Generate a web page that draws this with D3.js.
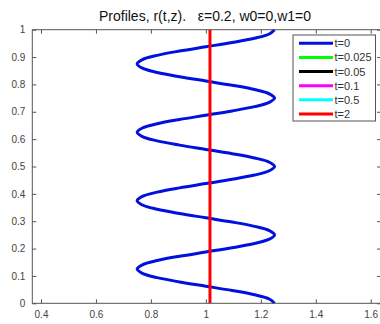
<!DOCTYPE html>
<html><head><meta charset="utf-8">
<script src="https://cdn.jsdelivr.net/npm/d3@7"></script>
<style>body{margin:0;background:#fff;}svg{display:block;}</style>
</head><body>
<svg id="c" width="380" height="324"></svg>
<script>
const titleText = "Profiles, r(t,z).   \u03b5=0.2, w0=0,w1=0";
const xTicks = [0.4, 0.6, 0.8, 1, 1.2, 1.4, 1.6];
const yTicks = [0, 0.1, 0.2, 0.3, 0.4, 0.5, 0.6, 0.7, 0.8, 0.9, 1];
const legendLabels = ["t=0", "t=0.025", "t=0.05", "t=0.1", "t=0.5", "t=2"];
const legendColors = ["#0010dd", "#00ff00", "#000000", "#ff00ff", "#00ffff", "#ff0000"];
// t=0 profile: z (0..1 step 1/64) and r
const zT0 = [0,0.015625,0.03125,0.046875,0.0625,0.078125,0.09375,0.109375,0.125,0.140625,0.15625,0.171875,0.1875,0.203125,0.21875,0.234375,
  0.25,0.265625,0.28125,0.296875,0.3125,0.328125,0.34375,0.359375,0.375,0.390625,0.40625,0.421875,0.4375,0.453125,0.46875,0.484375,
  0.5,0.515625,0.53125,0.546875,0.5625,0.578125,0.59375,0.609375,0.625,0.640625,0.65625,0.671875,0.6875,0.703125,0.71875,0.734375,
  0.75,0.765625,0.78125,0.796875,0.8125,0.828125,0.84375,0.859375,0.875,0.890625,0.90625,0.921875,0.9375,0.953125,0.96875,0.984375,1];
const rT0 = [1.25,1.231,1.177,1.096,1.0,0.904,0.823,0.769,0.75,0.769,0.823,0.904,1.0,1.096,1.177,1.231,
  1.25,1.231,1.177,1.096,1.0,0.904,0.823,0.769,0.75,0.769,0.823,0.904,1.0,1.096,1.177,1.231,
  1.25,1.231,1.177,1.096,1.0,0.904,0.823,0.769,0.75,0.769,0.823,0.904,1.0,1.096,1.177,1.231,
  1.25,1.231,1.177,1.096,1.0,0.904,0.823,0.769,0.75,0.769,0.823,0.904,1.0,1.096,1.177,1.231,1.25];
// t=2 profile
const zT2 = [0, 1];
const rT2 = [1.015, 1.015];

const svg = d3.select("#c");
const L = 32.3, R = 381, T = 29.7, B = 303.3;
const x = d3.scaleLinear().domain([0.4, 1.6]).range([41, 370.7]);
const y = d3.scaleLinear().domain([0, 1]).range([B, T]);
const axisColor = "#555";
const font = "'Liberation Sans', Arial, sans-serif";

// data lines
const line = d3.line().x(d => x(d[0])).y(d => y(d[1])).curve(d3.curveCatmullRom);
svg.append("path").datum(zT0.map((z, i) => [rT0[i], z]))
  .attr("d", line).attr("fill", "none").attr("stroke", legendColors[0]).attr("stroke-width", 3);
svg.append("path").datum(zT2.map((z, i) => [rT2[i], z]))
  .attr("d", d3.line().x(d => x(d[0])).y(d => y(d[1])))
  .attr("fill", "none").attr("stroke", legendColors[5]).attr("stroke-width", 3);

// axes
const gx = svg.append("g").attr("transform", `translate(0,${B})`)
  .call(d3.axisBottom(x).tickValues(xTicks).tickSizeInner(-4).tickSizeOuter(0).tickPadding(8).tickFormat(d3.format("")));
const gxt = svg.append("g").attr("transform", `translate(0,${T})`)
  .call(d3.axisTop(x).tickValues(xTicks).tickSizeInner(-4).tickSizeOuter(0).tickFormat(""));
const gy = svg.append("g").attr("transform", `translate(${L},0)`)
  .call(d3.axisLeft(y).tickValues(yTicks).tickSizeInner(-4).tickSizeOuter(0).tickPadding(7).tickFormat(d3.format("")));
const gyr = svg.append("g").attr("transform", `translate(${R},0)`)
  .call(d3.axisRight(y).tickValues(yTicks).tickSizeInner(-4).tickSizeOuter(0).tickFormat(""));
[gx, gxt, gy, gyr].forEach(g => {
  g.select(".domain").remove();
  g.selectAll(".tick line").attr("stroke", axisColor);
  g.selectAll(".tick text").attr("fill", "#444").style("font-family", font).style("font-size", "10px");
});
svg.append("rect").attr("x", L).attr("y", T).attr("width", R - L).attr("height", B - T)
  .attr("fill", "none").attr("stroke", axisColor).attr("stroke-width", 1);

// title
svg.append("text").attr("x", 205).attr("y", 21).attr("text-anchor", "middle")
  .style("white-space", "pre").attr("xml:space", "preserve")
  .style("font-family", font).style("font-size", "14px").attr("fill", "#111").text(titleText);

// legend
const lg = svg.append("g");
lg.append("rect").attr("x", 293).attr("y", 35).attr("width", 82.5).attr("height", 86)
  .attr("fill", "#fff").attr("stroke", axisColor).attr("stroke-width", 1);
const ly = d3.scaleLinear().domain([0, 5]).range([43.3, 114]);
legendLabels.forEach((lab, i) => {
  lg.append("line").attr("x1", 299).attr("x2", 333).attr("y1", ly(i)).attr("y2", ly(i))
    .attr("stroke", legendColors[i]).attr("stroke-width", 3);
  lg.append("text").attr("x", 334.5).attr("y", ly(i) + 4).style("font-family", font)
    .style("font-size", "11px").attr("fill", "#333").text(lab);
});
</script>
</body></html>
